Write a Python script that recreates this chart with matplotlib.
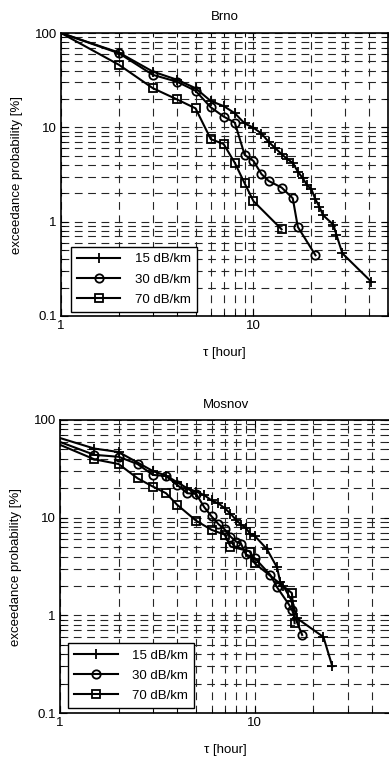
import matplotlib
matplotlib.use('Agg')
import matplotlib.pyplot as plt
from matplotlib.ticker import LogLocator, NullFormatter, FixedLocator, FixedFormatter

plt.rcParams['font.family'] = ['Liberation Sans', 'DejaVu Sans']

labels = ['15 dB/km', '30 dB/km', '70 dB/km']

# Brno, tau [hour] / exceedance probability [%]
brno_x15 = [1, 2, 3, 4, 5, 6, 7, 8, 9, 10, 11, 12, 13, 14, 15, 16, 17, 18, 19, 20,
            21, 22, 23, 26, 27, 29, 41]
brno_y15 = [100, 62, 39, 32, 26, 19, 16.8, 14.1, 11.0, 9.9, 8.6, 7.0, 6.0, 5.2, 4.6,
            4.2, 3.4, 2.9, 2.44, 2.2, 1.72, 1.44, 1.17, 0.93, 0.72, 0.46, 0.23]
brno_x30 = [1, 2, 3, 4, 5, 6, 7, 8, 9, 10, 11, 12, 14, 16, 17, 21]
brno_y30 = [100, 61, 36, 30.5, 24.4, 16.3, 13, 11.2, 5.1, 4.4, 3.2, 2.7, 2.3, 1.77, 0.88, 0.44]
brno_x70 = [1, 2, 3, 4, 5, 6, 7, 8, 9, 10, 14]
brno_y70 = [100, 46, 26, 19.8, 15.9, 7.5, 6.65, 4.2, 2.55, 1.65, 0.83]

# Mosnov
mos_x15 = [0.5, 1.5, 2, 3, 3.5, 4, 4.5, 5, 5.5, 6, 6.5, 7, 7.5, 8, 8.5, 9, 9.5, 10,
           11.5, 13, 13.5, 14, 15.5, 16.5, 22.5, 25]
mos_y15 = [100, 51, 47, 30, 27, 23, 20, 18.5, 17, 15, 14, 12.5, 11, 9.5, 8.5, 7.8, 6.8,
           6.5, 4.8, 3.1, 2.2, 2.0, 1.4, 0.93, 0.6, 0.3]
mos_x30 = [0.5, 1.5, 2, 2.5, 3, 3.5, 4, 4.5, 5, 5.5, 6, 6.5, 7, 7.5, 8, 8.5, 9, 10,
           12, 13, 15, 15.5, 17.5]
mos_y30 = [100, 44, 42, 35.4, 27.4, 26.7, 21.6, 17.8, 17.5, 12.8, 10.3, 8.6, 7.6, 6.4,
           5.7, 5.4, 4.2, 3.85, 2.6, 1.94, 1.28, 1.14, 0.63]
mos_x70 = [0.5, 1.5, 2, 2.5, 3, 3.5, 4, 5, 6, 7, 7.5, 9.5, 10, 15.5, 16]
mos_y70 = [100, 39.6, 35.4, 25.3, 20.8, 17.8, 13.5, 9.3, 7.5, 6.7, 5.06, 4.5, 3.4, 1.69, 0.83]

markers = ['+', 'o', 's']
msizes = [7.5, 6, 6]

fig = plt.figure(figsize=(3.89, 7.57), dpi=100)
ax1 = fig.add_axes([61 / 389, 1 - 316 / 757, 327 / 389, 283 / 757])
ax2 = fig.add_axes([60 / 389, 1 - 713 / 757, 331 / 389, 293 / 757])


def draw(ax, series, title, leg_anchor):
    for (x, y), m, ms, lab in zip(series, markers, msizes, labels):
        ax.plot(x, y, color='black', lw=1.5, marker=m, ms=ms, mfc='none',
                mec='black', mew=1.3, markevery=slice(1, None), label=lab)
    ax.set_xscale('log')
    ax.set_yscale('log')
    ax.set_xlim(1, 50)
    ax.set_ylim(0.1, 100)
    ax.xaxis.set_major_locator(FixedLocator([1, 10]))
    ax.xaxis.set_major_formatter(FixedFormatter(['1', '10']))
    ax.xaxis.set_minor_locator(LogLocator(base=10, subs=range(2, 10)))
    ax.xaxis.set_minor_formatter(NullFormatter())
    ax.yaxis.set_major_locator(FixedLocator([0.1, 1, 10, 100]))
    ax.yaxis.set_major_formatter(FixedFormatter(['0.1', '1', '10', '100']))
    ax.yaxis.set_minor_locator(LogLocator(base=10, subs=range(2, 10)))
    ax.yaxis.set_minor_formatter(NullFormatter())
    ax.grid(True, which='both', color='0.15', lw=0.8, ls=(0, (7, 5)))
    ax.tick_params(which='both', direction='in', top=True, right=True,
                   labelsize=9.5, pad=3)
    ax.tick_params(which='major', length=5)
    ax.tick_params(which='minor', length=3)
    for s in ax.spines.values():
        s.set_linewidth(1.2)
    ax.set_title(title, fontsize=9.5, pad=9)
    ax.set_xlabel('\u03c4 [hour]', fontsize=9.5, labelpad=11)
    ax.set_ylabel('exceedance probability [%]', fontsize=9.5, labelpad=8)
    leg = ax.legend(loc='lower left', bbox_to_anchor=leg_anchor, fontsize=9.5,
                    fancybox=False, framealpha=1, edgecolor='black',
                    handlelength=3.3, handletextpad=1.1, labelspacing=0.6,
                    borderpad=0.46, borderaxespad=0)
    leg.get_frame().set_linewidth(1.0)


draw(ax1, [(brno_x15, brno_y15), (brno_x30, brno_y30), (brno_x70, brno_y70)], 'Brno',
     (0.030, 0.015))
draw(ax2, [(mos_x15, mos_y15), (mos_x30, mos_y30), (mos_x70, mos_y70)], 'Mosnov',
     (0.024, 0.017))

fig.savefig('out.png', dpi=100)
